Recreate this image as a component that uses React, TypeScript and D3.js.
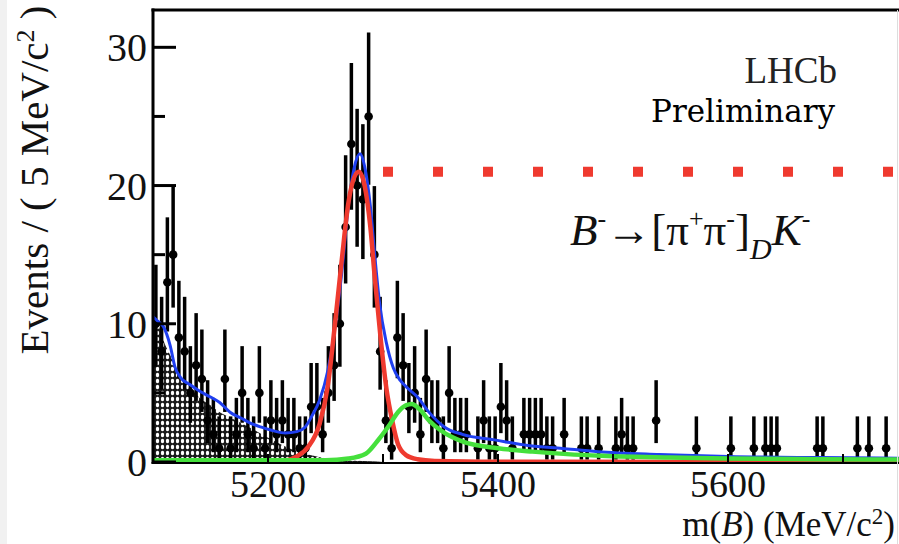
import React from 'react';
import * as d3 from 'd3';

// m(B) histogram, 5 MeV bins starting at 5100
const binStart = 5100;
const binWidth = 5;
const counts = [
  10, 8, 13, 15, 9, 8, 5, 7, 6, 3,
  2, 1, 6, 1, 2, 5, 2, 1, 5, 1,
  3, 2, 3, 2, 2, 1, 1, 4, 4, 2,
  5, 7, 10, 17, 23, 20, 19, 25, 15, 8,
  3, 1, 9, 7, 4, 5, 2, 6, 3, 3,
  1, 5, 2, 2, 2, 0, 1, 3, 1, 1,
  4, 3, 1, 0, 2, 2, 2, 2, 1, 1,
  0, 2, 0, 0, 1, 1, 0, 1, 0, 0,
  1, 2, 1, 1, 0, 0, 0, 3, 0, 0,
  0, 0, 0, 0, 1, 0, 0, 0, 0, 0,
  1, 0, 0, 0, 1, 0, 1, 1, 1, 0,
  0, 0, 0, 0, 0, 1, 1, 0, 0, 0,
  0, 0, 1, 0, 1, 0, 0, 1, 0, 0,
];

// 68% Poisson intervals, indexed by count
const errLow = [0, 0.173, 0.708, 1.367, 2.086, 2.84, 3.62, 4.419, 5.232, 6.057, 6.891, 7.734, 8.585, 9.441, 10.3, 11.17, 12.04, 12.92, 13.8, 14.68, 15.57, 16.46, 17.36, 18.25, 19.15, 20.06];
const errHigh = [1.841, 3.3, 4.638, 5.918, 7.163, 8.382, 9.584, 10.77, 11.95, 13.11, 14.27, 15.42, 16.56, 17.7, 18.83, 19.96, 21.08, 22.2, 23.32, 24.44, 25.55, 26.66, 27.76, 28.87, 29.97, 31.07];

// fit components [mass, events]
const totalFit: [number, number][] = [
  [5100, 10.5], [5104, 10.2], [5109, 9.8], [5115, 8.4], [5119, 6.9], [5124, 6.1],
  [5132, 5.6], [5141, 5.1], [5150, 4.7], [5158, 4.3], [5167, 3.6], [5176, 3.2],
  [5185, 2.8], [5195, 2.5], [5205, 2.25], [5215, 2.1], [5225, 2.2], [5232, 2.5],
  [5238, 3.3], [5245, 4.5], [5252, 6.6], [5258, 9.6], [5264, 13.6], [5270, 18.6],
  [5275, 21.3], [5280, 22.3], [5284, 21.4], [5289, 18.5], [5293, 14.8], [5297, 11.5],
  [5303, 8.6], [5309, 6.8], [5315, 5.9], [5322, 5.3], [5330, 4.7], [5339, 3.7],
  [5354, 2.5], [5369, 2.0], [5397, 1.6], [5426, 1.2], [5456, 0.98], [5487, 0.75],
  [5540, 0.55], [5600, 0.4], [5680, 0.32], [5760, 0.27],
];
const signalFit: [number, number][] = [
  [5100, 0], [5200, 0.02], [5215, 0.1], [5225, 0.4], [5235, 1.1], [5245, 2.8],
  [5252, 5.5], [5258, 9.8], [5264, 14.5], [5270, 18.8], [5275, 20.6], [5279, 21.0],
  [5284, 20.0], [5289, 17.0], [5293, 13.2], [5298, 8.9], [5303, 5.3], [5308, 3.0],
  [5313, 1.3], [5320, 0.5], [5330, 0.2], [5345, 0.08], [5400, 0.02], [5760, 0],
];
const partRecoFit: [number, number][] = [
  [5100, 0.13], [5250, 0.13], [5270, 0.25], [5285, 0.6], [5295, 1.5], [5305, 2.6],
  [5313, 3.6], [5320, 4.1], [5325, 4.2], [5332, 3.8], [5340, 3.0], [5350, 2.3],
  [5360, 1.8], [5370, 1.45], [5400, 1.0], [5430, 0.75], [5460, 0.57], [5490, 0.45],
  [5550, 0.32], [5600, 0.26], [5680, 0.2], [5760, 0.17],
];
const combBkg: [number, number][] = [
  [5100, 10.3], [5104, 10.0], [5110, 8.6], [5117, 7.4], [5123, 6.3], [5130, 5.6],
  [5141, 4.6], [5150, 4.1], [5156, 3.7], [5170, 3.1], [5184, 2.5], [5199, 1.8],
  [5213, 1.2], [5228, 0.7], [5245, 0.35], [5260, 0.15], [5290, 0.05], [5300, 0],
];

const signalLevel = 21;
const signalLevelFrom = 5300;

const yTicks = [0, 10, 20, 30];
const yMinorTicks = [5, 15, 25];
const xLabels = [5200, 5400, 5600];
const xTicks = [5200, 5300, 5400, 5500, 5600, 5700];

const W = 899;
const H = 544;
const serif = '"Liberation Serif", "Times New Roman", serif';

export default function App() {
  const x = d3.scaleLinear().domain([5100, 5800]).range([153, 958]);
  const y = d3.scaleLinear().domain([0, 32.7]).range([462, 10]);

  const line = d3.line<[number, number]>()
    .x(d => x(d[0]))
    .y(d => y(d[1]))
    .curve(d3.curveMonotoneX);
  const area = d3.area<[number, number]>()
    .x(d => x(d[0]))
    .y0(y(0))
    .y1(d => y(d[1]))
    .curve(d3.curveMonotoneX);

  const points = counts
    .map((n, i) => ({ n, m: binStart + binWidth * i + binWidth / 2 }))
    .filter(p => p.n > 0);

  return (
    <svg width={W} height={H} style={{ position: 'absolute', left: 0, top: 0, background: '#fff' }}
      fontFamily={serif}>
      <defs>
        <clipPath id="plot">
          <rect x={153} y={10} width={W - 153} height={452} />
        </clipPath>
        <pattern id="hatch" width={5} height={6} patternUnits="userSpaceOnUse">
          <rect width={5} height={6} fill="#1a1a1a" />
          <ellipse cx={2.5} cy={3} rx={1.7} ry={2.3} fill="#fff" />
        </pattern>
      </defs>

      <rect x={0} y={0} width={7} height={H} fill="#f1f1f1" />

      <g clipPath="url(#plot)">
        <path d={area(combBkg) ?? ''} fill="url(#hatch)" />

        {points.map((p, i) => {
          const cx = x(p.m);
          return (
            <g key={i} stroke="#000" strokeWidth={3.5}>
              <line x1={cx} x2={cx} y1={y(errLow[p.n])} y2={y(errHigh[p.n])} />
              <line x1={x(p.m - binWidth / 2)} x2={x(p.m + binWidth / 2)} y1={y(p.n)} y2={y(p.n)} />
              <circle cx={cx} cy={y(p.n)} r={4.3} fill="#000" stroke="none" />
            </g>
          );
        })}

        <path d={line(totalFit) ?? ''} fill="none" stroke="#1f3ff0" strokeWidth={3} />
        <path d={line(signalFit) ?? ''} fill="none" stroke="#ef3a2f" strokeWidth={4.5} />
        <path d={line(partRecoFit) ?? ''} fill="none" stroke="#45e03c" strokeWidth={4.5} />

        <line x1={x(signalLevelFrom)} x2={W} y1={y(signalLevel)} y2={y(signalLevel)}
          stroke="#ef3a2f" strokeWidth={10} strokeDasharray="10 40" />
      </g>

      {/* frame */}
      <g stroke="#000" strokeWidth={3} fill="none">
        <line x1={153} x2={153} y1={8.5} y2={463.5} />
        <line x1={151.5} x2={W} y1={10} y2={10} />
        <line x1={151.5} x2={W} y1={463} y2={463} strokeWidth={2} />
        {yTicks.map(t => <line key={t} x1={153} x2={176} y1={y(t)} y2={y(t)} />)}
        {yMinorTicks.map(t => <line key={t} x1={153} x2={165} y1={y(t)} y2={y(t)} />)}
        {xTicks.map(t => <line key={t} x1={x(t)} x2={x(t)} y1={463} y2={454} strokeWidth={2} />)}
      </g>
      <line x1={897.5} x2={897.5} y1={10} y2={H} stroke="#ddd" strokeWidth={1} />

      {yTicks.map(t => (
        <text key={t} x={147} y={y(t) + 14} fontSize={40} textAnchor="end" fill="#111">{t}</text>
      ))}
      {xLabels.map(t => (
        <text key={t} x={x(t)} y={497} fontSize={38} textAnchor="middle" fill="#111">{t}</text>
      ))}

      <text transform="translate(48,180) rotate(-90)" fontSize={41} textAnchor="middle" fill="#111">
        Events / ( 5 MeV/c<tspan dy={-14} fontSize={26}>2</tspan><tspan dy={14}> )</tspan>
      </text>

      <text x={895} y={536} fontSize={35} textAnchor="end" fill="#111">
        m(<tspan fontStyle="italic">B</tspan>) (MeV/c<tspan dy={-12} fontSize={23}>2</tspan><tspan dy={12}>)</tspan>
      </text>

      <text x={837} y={83} fontSize={37} textAnchor="end" fill="#222">LHCb</text>
      <text x={835} y={122} fontSize={31} textAnchor="end" fill="#000"
        fontFamily='"DejaVu Serif", serif'>Preliminary</text>

      <text x={570} y={245} fontSize={45} fill="#111">
        <tspan fontStyle="italic">B</tspan>
        <tspan dy={-18} fontSize={26}>-</tspan>
        <tspan dy={18}>→[π</tspan>
        <tspan dy={-18} fontSize={26}>+</tspan>
        <tspan dy={18}>π</tspan>
        <tspan dy={-18} fontSize={26}>-</tspan>
        <tspan dy={18}>]</tspan>
        <tspan dy={14} fontSize={30} fontStyle="italic">D</tspan>
        <tspan dy={-14} fontStyle="italic">K</tspan>
        <tspan dy={-18} fontSize={26}>-</tspan>
      </text>
    </svg>
  );
}
